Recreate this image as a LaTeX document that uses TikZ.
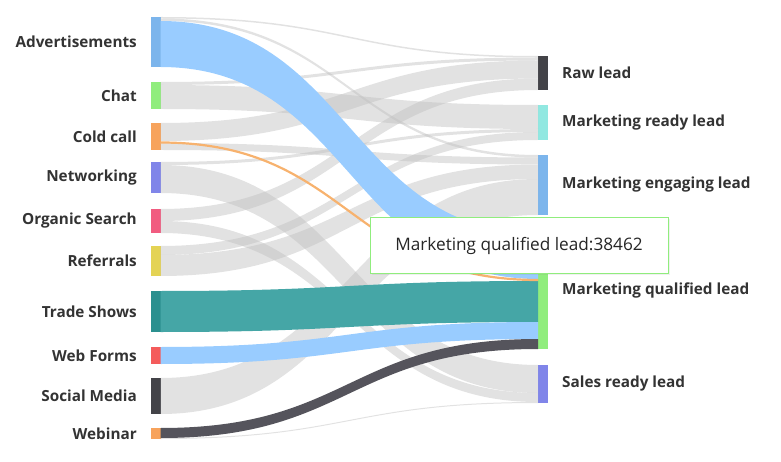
\documentclass[tikz,border=0pt]{standalone}
\usepackage{fontspec}
\setmainfont{Open Sans}
\usetikzlibrary{positioning,calc,shadows}

\definecolor{cBlue}{HTML}{7CB5EC}
\definecolor{cDark}{HTML}{434348}
\definecolor{cGreen}{HTML}{90ED7D}
\definecolor{cOrange}{HTML}{F7A35C}
\definecolor{cViolet}{HTML}{8085E9}
\definecolor{cPink}{HTML}{F15C80}
\definecolor{cYellow}{HTML}{E4D354}
\definecolor{cTeal}{HTML}{2B908F}
\definecolor{cRed}{HTML}{F45B5B}
\definecolor{cCyan}{HTML}{91E8E1}
\definecolor{fBlue}{HTML}{99CCFF}
\definecolor{fTeal}{HTML}{45A6A6}
\definecolor{fDark}{HTML}{55545C}
\definecolor{fOrange}{HTML}{F7B26E}

\begin{document}
\begin{tikzpicture}[x=1pt,y=-1pt]
\useasboundingbox (0,0) rectangle (781,462);

\tikzset{BarStyle/.style = {rectangle, draw=none, inner sep=0pt, outer sep=0pt, minimum width=9.5pt} }

% sources
\node[BarStyle, fill=cBlue,   minimum height=50pt] (S1)  at (155.75, 42)    {};
\node[BarStyle, fill=cGreen,  minimum height=27pt] (S2)  at (155.75, 95.5)  {};
\node[BarStyle, fill=cOrange, minimum height=27pt] (S3)  at (155.75, 136.5) {};
\node[BarStyle, fill=cViolet, minimum height=31pt] (S4)  at (155.75, 177.5) {};
\node[BarStyle, fill=cPink,   minimum height=24pt] (S5)  at (155.75, 221)   {};
\node[BarStyle, fill=cYellow, minimum height=30pt] (S6)  at (155.75, 261)   {};
\node[BarStyle, fill=cTeal,   minimum height=41pt] (S7)  at (155.75, 311.5) {};
\node[BarStyle, fill=cRed,    minimum height=17pt] (S8)  at (155.75, 355.5) {};
\node[BarStyle, fill=cDark,   minimum height=36pt] (S9)  at (155.75, 396)   {};
\node[BarStyle, fill=cOrange, minimum height=11pt] (S10) at (155.75, 433.5) {};

% targets
\node[BarStyle, fill=cDark,   minimum height=34pt]  (T1) at (542.75, 73)    {};
\node[BarStyle, fill=cCyan,   minimum height=35pt]  (T2) at (542.75, 122.5) {};
\node[BarStyle, fill=cBlue,   minimum height=60pt]  (T3) at (542.75, 185)   {};
\node[BarStyle, fill=cGreen,  minimum height=117pt] (T4) at (542.75, 290.5) {};
\node[BarStyle, fill=cViolet, minimum height=38pt]  (T5) at (542.75, 384)   {};

\tikzset{FlowStyle/.style = {fill=black!25, fill opacity=0.45} }

% flows: source/top/bottom/target/top/bottom/colour (empty = grey)
\foreach \src/\ya/\yb/\dst/\za/\zb/\col in {
  S1/0/1.5/T1/0/1.5/, S1/1.5/4/T3/0/2.5/,
  S2/0/3/T1/1.5/4.5/, S2/3/27/T2/0/24/,
  S3/0/18/T1/4.5/22.5/, S3/20/27/T3/2.5/9.5/,
  S4/0/3/T2/24/27/, S4/3/31/T5/0/28/,
  S5/0/12/T1/22.5/34/, S5/12/24/T5/28/37/,
  S6/0/9/T2/27/35/, S6/9/30/T3/9.5/24/,
  S9/0/36/T3/24/60/, S10/10/11/T5/37/38/,
  S1/4/50/T4/1/47/fBlue, S7/0/41/T4/49/90/fTeal,
  S8/0/17/T4/90/107/fBlue, S10/0/10/T4/107/117/fDark} {
  \coordinate (p1) at ($(\src.north east)+(0,\ya)$);
  \coordinate (p2) at ($(\src.north east)+(0,\yb)$);
  \coordinate (q1) at ($(\dst.north west)+(0,\za)$);
  \coordinate (q2) at ($(\dst.north west)+(0,\zb)$);
  \coordinate (m) at ($(p1)!.5!(q1)$);
  \ifx\col\empty
    \fill[FlowStyle] (p1) .. controls (m |- p1) and (m |- q1) .. (q1)
      -- (q2) .. controls (m |- q2) and (m |- p2) .. (p2) -- cycle;
  \else
    \fill[fill=\col] (p1) .. controls (m |- p1) and (m |- q1) .. (q1)
      -- (q2) .. controls (m |- q2) and (m |- p2) .. (p2) -- cycle;
  \fi
}

% cold call line
\coordinate (c1) at ($(S3.north east)+(0,19.5)$);
\coordinate (c2) at ($(T4.north west)+(0,48)$);
\coordinate (cm) at ($(c1)!.5!(c2)$);
\draw[fOrange, line width=2.2pt] (c1) .. controls (cm |- c1) and (cm |- c2) .. (c2);

\tikzset{LabelStyle/.style = {inner sep=0pt, text=black!80,
  font=\fontsize{15.3}{18}\selectfont\bfseries} }

\node[LabelStyle, left=14pt of S1]  {Advertisements};
\node[LabelStyle, left=14pt of S2]  {Chat};
\node[LabelStyle, left=14pt of S3]  {Cold call};
\node[LabelStyle, left=14pt of S4]  {Networking};
\node[LabelStyle, left=14pt of S5]  {Organic Search};
\node[LabelStyle, left=14pt of S6]  {Referrals};
\node[LabelStyle, left=14pt of S7]  {Trade Shows};
\node[LabelStyle, left=14pt of S8]  {Web Forms};
\node[LabelStyle, left=14pt of S9]  {Social Media};
\node[LabelStyle, left=14pt of S10] {Webinar};

\node[LabelStyle, right=14.5pt of T1] {Raw lead};
\node[LabelStyle, right=14.5pt of T2] {Marketing ready lead};
\node[LabelStyle, right=14.5pt of T3] {Marketing engaging lead};
\node[LabelStyle, right=14.5pt of T4] {Marketing qualified lead};
\node[LabelStyle, right=14.5pt of T5] {Sales ready lead};

\tikzset{TipStyle/.style = {draw=cGreen, line width=1pt, fill=white,
  minimum width=298pt, minimum height=55pt, text=black!85,
  font=\fontsize{17.2}{20}\selectfont,
  drop shadow={opacity=0.12, shadow xshift=1.5pt, shadow yshift=-1.5pt}} }

\node[TipStyle] (tip) at (519, 245.5) {Marketing qualified lead:38462};

\end{tikzpicture}
\end{document}
